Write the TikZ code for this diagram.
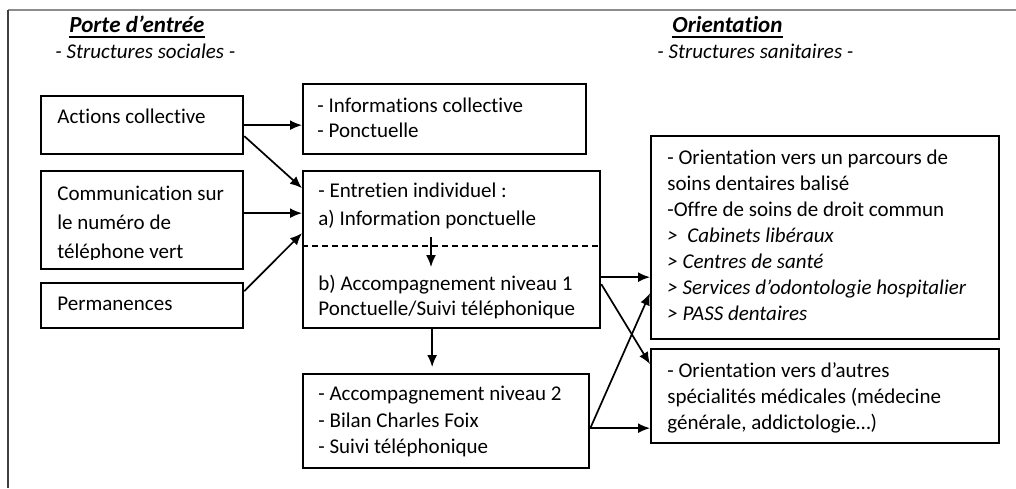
\documentclass[tikz,border=0pt]{standalone}
\usepackage{fontspec}
\setmainfont{Carlito}[Ligatures=NoCommon]
\usetikzlibrary{arrows.meta}
\begin{document}
\begin{tikzpicture}[x=.5pt, y=-.5pt, >={Latex[length=6pt,width=5pt]},
    box/.style={draw, line width=1.15pt, inner sep=0pt, anchor=north west},
    txt/.style={anchor=base west, inner sep=0pt, font=\fontsize{10.5}{12}\selectfont},
    head/.style={anchor=base west, inner sep=0pt, font=\fontsize{11.5}{13}\selectfont\bfseries\itshape},
    arr/.style={->, line width=.85pt}]
\useasboundingbox (0,0) rectangle (1016,488);
\draw[line width=.75pt, black!45] (8,10)--(1016,10);
\draw[line width=1pt, black!75] (8,10)--(8,488);

\node (porte) at (69,32)[head]{Porte d’entrée};
\node (sociales) at (55,58)[txt]{\itshape - Structures sociales -};
\node (orient) at (672,32)[head]{Orientation};
\node (sanit) at (657,58)[txt]{\itshape - Structures sanitaires -};
\draw[line width=1pt] ([yshift=-2.6pt]porte.base west)--([yshift=-2.6pt]porte.base east);
\draw[line width=1pt] ([yshift=-2.6pt]orient.base west)--([yshift=-2.6pt]orient.base east);

\node (act) at (40,95)[box, minimum width=101pt, minimum height=29pt]{};
\node (com) at (40,170)[box, minimum width=101pt, minimum height=49pt]{};
\node (perm) at (40,282)[box, minimum width=101pt, minimum height=22.5pt]{};
\node (info) at (302,83)[box, minimum width=141.5pt, minimum height=35pt]{};
\node (ent) at (302,170)[box, minimum width=148.5pt, minimum height=78.5pt]{};
\node (acc) at (302,373)[box, minimum width=143pt, minimum height=47pt]{};
\node (soins) at (650,135)[box, minimum width=174pt, minimum height=101.5pt]{};
\node (autres) at (650,348)[box, minimum width=174pt, minimum height=47pt]{};

\node (act1) at (57,123)[txt]{Actions collective};
\begin{scope}
\clip (40,170) rectangle (242,259);
\foreach \y/\t [count=\i] in {200/{Communication sur}, 229/{le numéro de}, 258/{téléphone vert}}
{
    \node (com\i) at (57,\y)[txt]{\t};
}
\end{scope}
\node (perm1) at (57,310)[txt]{Permanences};

\foreach \y/\t [count=\i] in {112/{- Informations collective}, 137/{- Ponctuelle}}
{
    \node (info\i) at (317,\y)[txt]{\t};
}
\foreach \y/\t [count=\i] in {197/{- Entretien individuel :}, 225/{a) Information ponctuelle}, 290/{b) Accompagnement niveau 1}, 315/{Ponctuelle/Suivi téléphonique}}
{
    \node (ent\i) at (318,\y)[txt]{\t};
}
\foreach \y/\t [count=\i] in {400/{- Accompagnement niveau 2}, 427/{- Bilan Charles Foix}, 453/{- Suivi téléphonique}}
{
    \node (acc\i) at (318,\y)[txt]{\t};
}
\foreach \y/\t [count=\i] in {164/{- Orientation vers un parcours de}, 190/{soins dentaires balisé}, 216/{-Offre de soins de droit commun}, 242/{\itshape >\ \ Cabinets libéraux}, 268/{\itshape > Centres de santé}, 294/{\itshape > Services d’odontologie hospitalier}, 320/{\itshape > PASS dentaires}}
{
    \node (soins\i) at (667,\y)[txt]{\t};
}
\foreach \y/\t [count=\i] in {377/{- Orientation vers d’autres}, 403/{spécialités médicales (médecine}, 429/{générale, addictologie…)}}
{
    \node (autres\i) at (667,\y)[txt]{\t};
}

\coordinate (dash) at (302,246);
\draw[line width=.75pt, dash pattern=on 3pt off 2pt] (dash)--(dash -| ent.east);
\coordinate (ia) at (431,237);
\coordinate (ib) at (431,267);
\draw[arr] (ia)--(ib);

\draw[arr] (act.east)--(act.east -| info.west);
\draw[arr] ([yshift=-5.5pt]act.east)--([yshift=30.75pt]ent.west);
\draw[arr] ([yshift=3.5pt]com.east)--([yshift=3.5pt]com.east -| ent.west);
\draw[arr] ([yshift=7.25pt]perm.east)--([yshift=8.25pt]ent.west);
\draw[arr, shorten >=3pt] ([xshift=-9.75pt]ent.south)--([xshift=-9.75pt]ent.south |- acc.north);
\draw[arr] ([yshift=-13.75pt]ent.east)--([yshift=-13.75pt]ent.east -| soins.west);
\draw[arr] ([yshift=-17.25pt]ent.east)--([yshift=16pt]autres.west);
\draw[arr] ([yshift=-3.5pt]acc.east)--([yshift=-27.75pt]soins.west);
\draw[arr] ([yshift=-3.5pt]acc.east)--([yshift=-3.5pt]acc.east -| autres.west);
\end{tikzpicture}
\end{document}
